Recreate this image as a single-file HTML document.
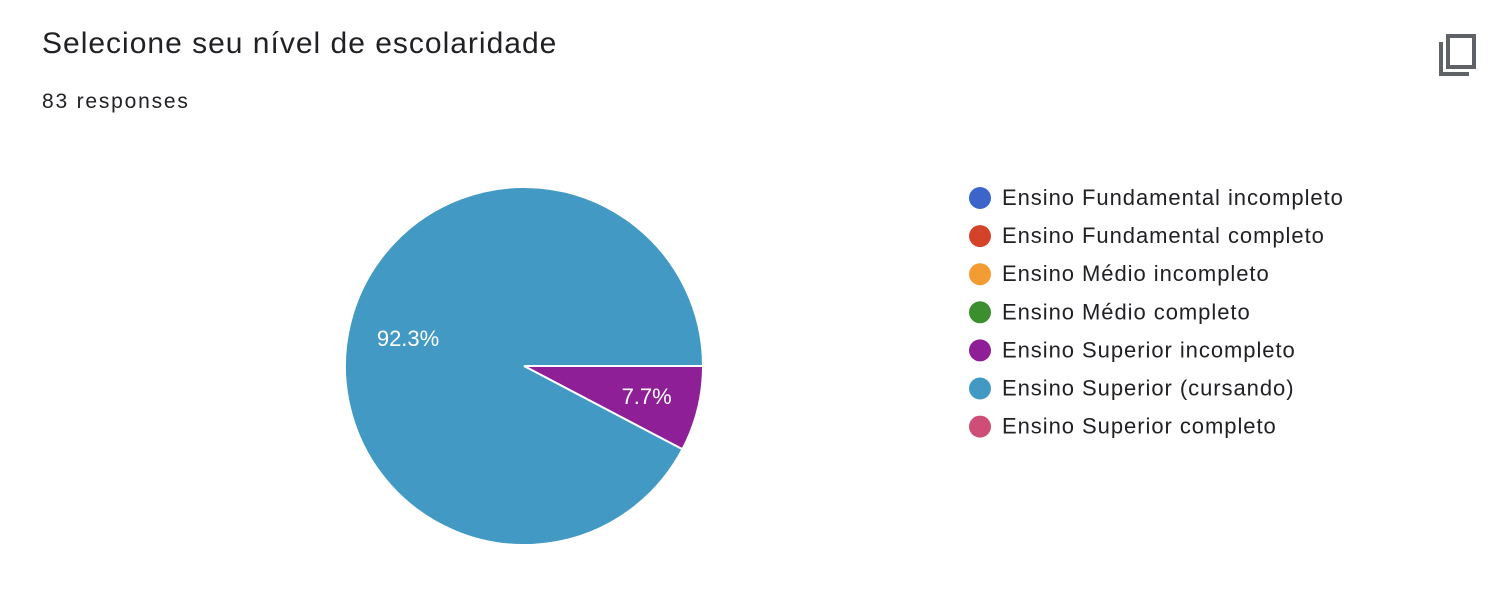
<!DOCTYPE html>
<html><head><meta charset="utf-8"><style>
body{margin:0;width:1502px;height:590px;background:#fff;font-family:"Liberation Sans",Arial,sans-serif;overflow:hidden;position:relative}
.title{position:absolute;left:42px;top:27px;font-size:30px;letter-spacing:1px;color:#202124}
.resp{position:absolute;left:42px;top:90px;font-size:21px;color:#202124;letter-spacing:1.8px}
</style></head><body>
<div class="title">Selecione seu nível de escolaridade</div>
<div class="resp">83 responses</div>
<svg style="position:absolute;left:1436px;top:32px" width="44" height="46" viewBox="0 0 44 46">
<path d="M5 10 V42 H33" fill="none" stroke="#5f6368" stroke-width="4"/>
<rect x="12" y="4" width="26" height="31" fill="none" stroke="#5f6368" stroke-width="4"/>
</svg>
<svg id="chart" width="1502" height="590" style="position:absolute;left:0;top:0"></svg>
<script>
const categories=["Ensino Fundamental incompleto","Ensino Fundamental completo","Ensino Médio incompleto","Ensino Médio completo","Ensino Superior incompleto","Ensino Superior (cursando)","Ensino Superior completo"];
const values=[0,0,0,0,7.7,92.3,0];
const colors=["#3b65c9","#d2432a","#f39c33","#3c8f2f","#8e1f96","#4299c4","#cf4e77"];
const svg=document.getElementById('chart');const NS='http://www.w3.org/2000/svg';
const cx=524,cy=366,r=179;
const total=values.reduce((a,b)=>a+b,0);
let ang=90;
function pt(a,rr){const t=(a-90)*Math.PI/180;return [cx+rr*Math.cos(t),cy+rr*Math.sin(t)];}
values.forEach((v,i)=>{
 if(v<=0)return;
 const sweep=v/total*360;const a0=ang,a1=ang+sweep;
 const p0=pt(a0,r),p1=pt(a1,r);
 const p=document.createElementNS(NS,'path');
 p.setAttribute('d',`M${cx},${cy} L${p0[0]},${p0[1]} A${r},${r} 0 ${sweep>180?1:0} 1 ${p1[0]},${p1[1]} Z`);
 p.setAttribute('fill',colors[i]);p.setAttribute('stroke','#fff');p.setAttribute('stroke-width','2');
 
 
 svg.appendChild(p);
 const lp=pt((a0+a1)/2,r*(sweep>180?0.65:0.7));
 const t=document.createElementNS(NS,'text');
 t.setAttribute('x',sweep>180?lp[0]-3:lp[0]+1);t.setAttribute('y',sweep>180?lp[1]+8:lp[1]+8);
 t.setAttribute('fill','#fff');t.setAttribute('font-size','22');t.setAttribute('text-anchor','middle');
 t.setAttribute('font-family','Liberation Sans, Arial, sans-serif');
 t.textContent=v.toFixed(1)+'%';
 
 
 svg.appendChild(t);
 ang=a1;
});
categories.forEach((c,i)=>{
 const y=198+i*38.1;
 const g=document.createElementNS(NS,'g');
 
 
 const d=document.createElementNS(NS,'circle');
 d.setAttribute('cx',980);d.setAttribute('cy',y);d.setAttribute('r',11);d.setAttribute('fill',colors[i]);
 const t=document.createElementNS(NS,'text');
 t.setAttribute('x',1002);t.setAttribute('y',y+7);t.setAttribute('font-size','22');t.setAttribute('fill','#202124');
 t.setAttribute('letter-spacing','0.95');
 t.setAttribute('font-family','Liberation Sans, Arial, sans-serif');t.textContent=c;
 g.appendChild(d);g.appendChild(t);svg.appendChild(g);
});
</script>
</body></html>
